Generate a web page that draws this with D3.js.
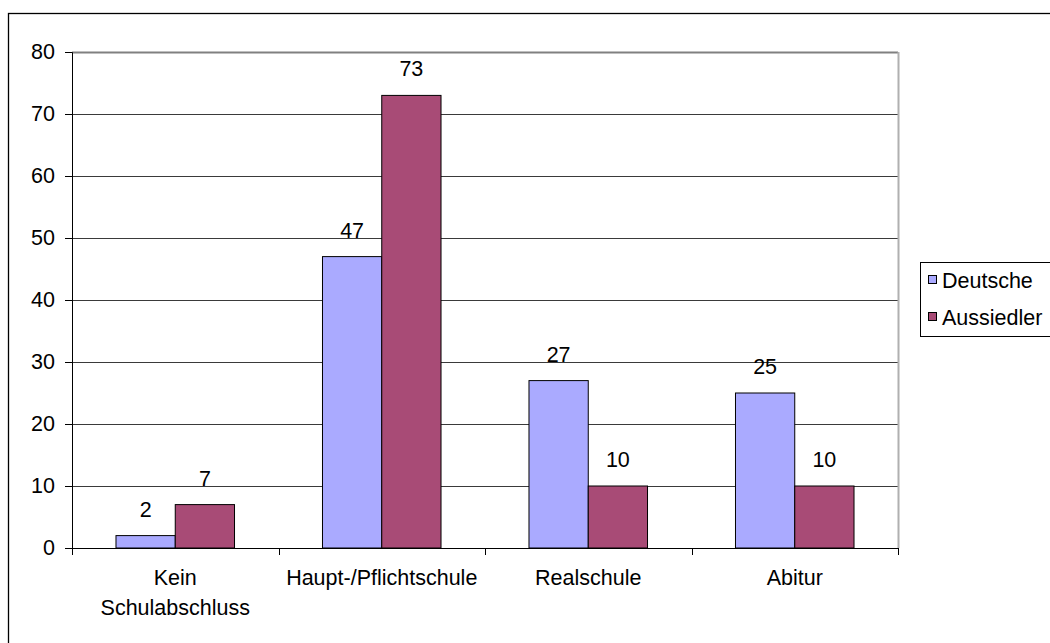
<!DOCTYPE html>
<html>
<head>
<meta charset="utf-8">
<script src="https://cdn.jsdelivr.net/npm/d3@7"></script>
<style>
  html, body { margin: 0; padding: 0; background: #fff; }
  svg { display: block; }
  text { font-family: "Liberation Sans", Arial, sans-serif; fill: #000; }
</style>
</head>
<body>
<svg id="chart" width="1050" height="643"></svg>
<script>
const categories = ["Kein Schulabschluss", "Haupt-/Pflichtschule", "Realschule", "Abitur"];
const categoryLines = [["Kein", "Schulabschluss"], ["Haupt-/Pflichtschule"], ["Realschule"], ["Abitur"]];
const seriesNames = ["Deutsche", "Aussiedler"];
const deutsche = [2, 47, 27, 25];
const aussiedler = [7, 73, 10, 10];
const yTicks = [0, 10, 20, 30, 40, 50, 60, 70, 80];
const colors = ["#AAAAFF", "#A84B76"];

const seriesValues = [deutsche, aussiedler];
const svg = d3.select("#chart");
const FS = 21.5;

// outer chart border
svg.append("rect").attr("x", 8.5).attr("y", 13.5).attr("width", 1100).attr("height", 700)
  .attr("fill", "none").attr("stroke", "#000").attr("stroke-width", 1.3);

const plot = { left: 72, right: 898, top: 52, bottom: 548 };
const y = d3.scaleLinear().domain([0, 80]).range([plot.bottom, plot.top]);
const x0 = d3.scaleBand().domain(categories).range([plot.left, plot.right]).paddingInner(0.426).paddingOuter(0.213);
const x1 = d3.scaleBand().domain(seriesNames).range([0, x0.bandwidth()]);

// gridlines
svg.append("g").selectAll("line").data(yTicks.filter(d => d > 0)).join("line")
  .attr("x1", plot.left).attr("x2", plot.right)
  .attr("y1", d => Math.round(y(d)) + 0.5).attr("y2", d => Math.round(y(d)) + 0.5)
  .attr("stroke", d => d === 80 ? "#808080" : "#3a3a3a").attr("stroke-width", d => d === 80 ? 2 : 1);
// right plot border
svg.append("line").attr("x1", plot.right + 0.5).attr("x2", plot.right + 0.5)
  .attr("y1", plot.top).attr("y2", plot.bottom).attr("stroke", "#b0b0b0").attr("stroke-width", 2);

// bars
const groups = svg.append("g").selectAll("g").data(categories).join("g")
  .attr("transform", c => `translate(${x0(c)},0)`);
groups.selectAll("rect").data((c, i) => seriesNames.map((s, j) => ({ s, v: seriesValues[j][i], j })))
  .join("rect")
  .attr("x", d => x1(d.s)).attr("width", x1.bandwidth())
  .attr("y", d => y(d.v)).attr("height", d => y(0) - y(d.v))
  .attr("fill", d => colors[d.j]).attr("stroke", "#000").attr("stroke-width", 1);
groups.selectAll("text.val").data((c, i) => seriesNames.map((s, j) => ({ s, v: seriesValues[j][i], j })))
  .join("text").attr("class", "val")
  .attr("x", d => x1(d.s) + x1.bandwidth() / 2).attr("y", d => y(d.v) - 19)
  .attr("text-anchor", "middle").attr("font-size", FS).text(d => d.v);

// y axis
const yAxis = svg.append("g").attr("transform", `translate(${plot.left},0)`)
  .call(d3.axisLeft(y).tickValues(yTicks).tickSize(7).tickPadding(10));
yAxis.select(".domain").attr("stroke", "#000");
yAxis.selectAll("line").attr("stroke", "#000");
yAxis.selectAll("text").attr("font-size", FS).attr("font-family", "Liberation Sans, Arial, sans-serif")
  .attr("fill", "#000").attr("dy", "0.3em");

// x axis
const xAxis = svg.append("g");
xAxis.append("line").attr("x1", plot.left).attr("x2", plot.right).attr("y1", plot.bottom + 0.5).attr("y2", plot.bottom + 0.5).attr("stroke", "#000");
const edges = categories.map(c => x0(c) - x0.step() * x0.paddingInner() / 2).concat([plot.right]);
xAxis.selectAll("line.tick").data(edges).join("line").attr("class", "tick")
  .attr("x1", d => Math.round(d) + 0.5).attr("x2", d => Math.round(d) + 0.5)
  .attr("y1", plot.bottom).attr("y2", plot.bottom + 7).attr("stroke", "#000");
categories.forEach((c, i) => {
  const t = xAxis.append("text").attr("text-anchor", "middle").attr("font-size", FS)
    .attr("x", x0(c) + x0.bandwidth() / 2).attr("y", 585);
  categoryLines[i].forEach((ln, k) => t.append("tspan").attr("x", x0(c) + x0.bandwidth() / 2).attr("dy", k === 0 ? 0 : 30).text(ln));
});

// legend
const lg = svg.append("g");
lg.append("rect").attr("x", 920.5).attr("y", 262.5).attr("width", 200).attr("height", 74)
  .attr("fill", "#fff").attr("stroke", "#000");
seriesNames.forEach((s, i) => {
  const cy = 280 + i * 37;
  lg.append("rect").attr("x", 928.5).attr("y", cy - 4.5).attr("width", 8).attr("height", 8)
    .attr("fill", colors[i]).attr("stroke", "#000");
  lg.append("text").attr("x", 942).attr("y", cy + 7.5).attr("font-size", FS).text(s);
});
</script>
</body>
</html>
